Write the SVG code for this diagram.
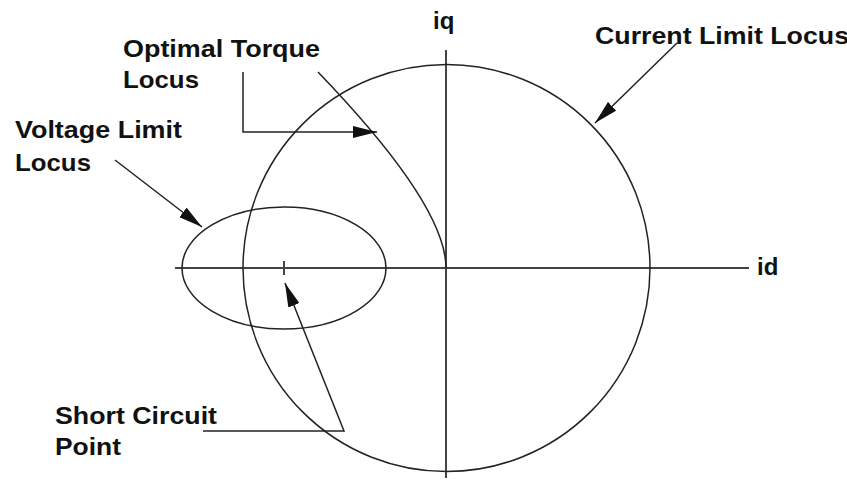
<svg xmlns="http://www.w3.org/2000/svg" width="847" height="483" viewBox="0 0 847 483">
<style>
.lbl{font-family:"Liberation Sans",Arial,sans-serif;font-weight:bold;font-size:24px;fill:#111}
.axis{stroke:#444;stroke-width:2;fill:none}
.curve{stroke:#222;stroke-width:1.5;fill:none}
.conn{stroke:#222;stroke-width:1.5;fill:none;marker-end:url(#ah)}
</style>
<defs>
<marker id="ah" markerUnits="userSpaceOnUse" markerWidth="24" markerHeight="12" refX="24" refY="6" orient="auto">
<path d="M0,0 L24,6 L0,12 z" fill="#111"/>
</marker>
</defs>
<rect width="847" height="483" fill="#fff"/>
<g id="axes">
<line class="axis" x1="175" y1="268" x2="749" y2="268"/>
<line class="axis" x1="446" y1="50" x2="446" y2="478"/>
<line class="axis" x1="284" y1="261" x2="284" y2="275" stroke-width="1.5"/>
</g>
<g id="current-limit-circle"><circle class="curve" cx="446.5" cy="268" r="203.5"/></g>
<g id="voltage-limit-ellipse"><ellipse class="curve" cx="284" cy="268" rx="102" ry="61"/></g>
<g id="optimal-torque-curve"><path class="curve" d="M318,72 Q446,205 446,268"/></g>
<g id="labels">
<text class="lbl" x="433" y="29">iq</text>
<text class="lbl" x="757" y="275">id</text>
<text class="lbl" x="595" y="44" textLength="254" lengthAdjust="spacingAndGlyphs">Current Limit Locus</text>
<text class="lbl" x="123" y="57" textLength="197" lengthAdjust="spacingAndGlyphs">Optimal Torque</text>
<text class="lbl" x="123" y="88" textLength="76" lengthAdjust="spacingAndGlyphs">Locus</text>
<text class="lbl" x="15" y="138" textLength="167" lengthAdjust="spacingAndGlyphs">Voltage Limit</text>
<text class="lbl" x="15" y="171" textLength="76" lengthAdjust="spacingAndGlyphs">Locus</text>
<text class="lbl" x="55" y="424" textLength="162" lengthAdjust="spacingAndGlyphs">Short Circuit</text>
<text class="lbl" x="55" y="455" textLength="66" lengthAdjust="spacingAndGlyphs">Point</text>
</g>
<g id="connectors">
<path class="conn" d="M677,43 L595,123"/>
<path class="conn" d="M243,72 L243,132 L377,132"/>
<path class="conn" d="M115,160 L202,227"/>
<path class="conn" d="M203,431 L344,431 L285,283"/>
</g>
</svg>
